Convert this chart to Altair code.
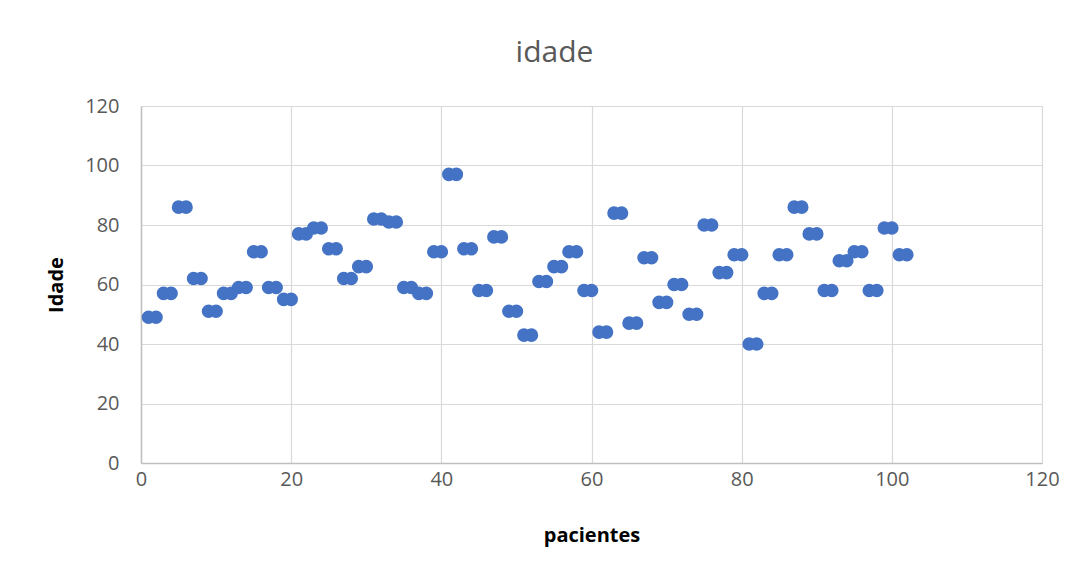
import altair as alt
import pandas as pd

pacientes = list(range(1, 103))
idade = [
    49, 49, 57, 57, 86, 86, 62, 62, 51, 51,
    57, 57, 59, 59, 71, 71, 59, 59, 55, 55,
    77, 77, 79, 79, 72, 72, 62, 62, 66, 66,
    82, 82, 81, 81, 59, 59, 57, 57, 71, 71,
    97, 97, 72, 72, 58, 58, 76, 76, 51, 51,
    43, 43, 61, 61, 66, 66, 71, 71, 58, 58,
    44, 44, 84, 84, 47, 47, 69, 69, 54, 54,
    60, 60, 50, 50, 80, 80, 64, 64, 70, 70,
    40, 40, 57, 57, 70, 70, 86, 86, 77, 77,
    58, 58, 68, 68, 71, 71, 58, 58, 79, 79,
    70, 70,
]
ticks = [0, 20, 40, 60, 80, 100, 120]

df = pd.DataFrame({"pacientes": pacientes, "idade": idade})

FONT = "Open Sans"
GRAY = "#595959"

chart = (
    alt.Chart(df)
    .mark_circle(size=185, opacity=1, color="#4472C4")
    .encode(
        x=alt.X(
            "pacientes:Q",
            scale=alt.Scale(domain=[0, 120], nice=False),
            axis=alt.Axis(
                values=ticks,
                title="pacientes",
                titleFont=FONT,
                titleFontSize=20,
                titleFontWeight="bold",
                titleColor="#000000",
                titleX=450.5,
                titleY=72,
                titleBaseline="middle",
                titleAlign="center",
                labelFont=FONT,
                labelFontSize=20,
                labelColor=GRAY,
                labelPadding=6,
                labelBaseline="top",
                ticks=False,
                domainColor="#BFBFBF",
                domainWidth=1.5,
                gridColor="#D9D9D9",
                gridWidth=1.2,
                labelFlush=False,
            ),
        ),
        y=alt.Y(
            "idade:Q",
            scale=alt.Scale(domain=[0, 120], nice=False),
            axis=alt.Axis(
                values=ticks,
                title="Idade",
                titleFont=FONT,
                titleFontSize=20,
                titleFontWeight="bold",
                titleColor="#000000",
                titleX=-85,
                titleY=178.5,
                titleAngle=270,
                titleBaseline="middle",
                titleAlign="center",
                labelFont=FONT,
                labelFontSize=20,
                labelColor=GRAY,
                labelPadding=22,
                labelBaseline="middle",
                ticks=False,
                domainColor="#BFBFBF",
                domainWidth=1.5,
                gridColor="#D9D9D9",
                gridWidth=1.2,
                labelFlush=False,
            ),
        ),
    )
    .properties(
        width=901,
        height=357,
        title=alt.TitleParams(
            "idade",
            font=FONT,
            fontSize=30,
            fontWeight="normal",
            color=GRAY,
            anchor="middle",
            frame="group",
            baseline="alphabetic",
            offset=44,
            dx=-37,
            dy=40,
        ),
        autosize=alt.AutoSizeParams(type="none"),
        padding={"left": 133, "top": 98, "right": 31, "bottom": 100},
    )
    .configure_view(stroke=None)
    .configure(background="white")
)

chart.save("out.html", embed_options={"renderer": "svg", "actions": False})
